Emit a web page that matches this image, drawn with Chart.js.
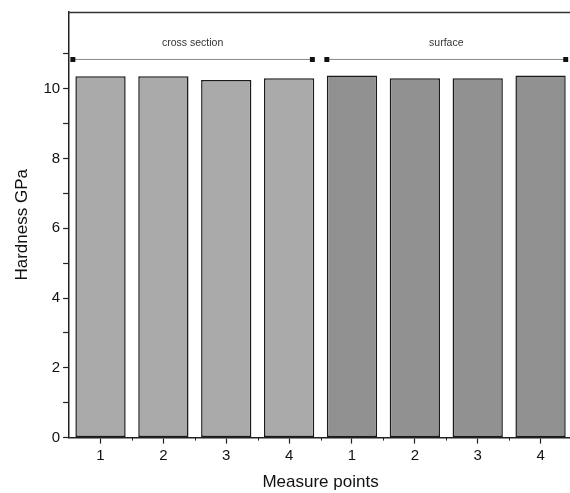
<!DOCTYPE html>
<html>
<head>
<meta charset="utf-8">
<script src="https://cdn.jsdelivr.net/npm/chart.js@4.4.1/dist/chart.umd.min.js"></script>
<style>
html,body{margin:0;padding:0;background:#fff;overflow:hidden;}
#wrap{position:relative;width:576px;height:493px;}
</style>
</head>
<body>
<div id="wrap"><canvas id="c" width="576" height="493"></canvas></div>
<script>
// ---- data ----
const categories = ['1', '2', '3', '4', '1', '2', '3', '4'];
const crossSection = [10.36, 10.36, 10.25, 10.30];
const surface = [10.38, 10.30, 10.30, 10.38];
const groupLabels = ['cross section', 'surface'];
const groupSpans = [[0.56, 4.37], [4.6, 8.4]];
const bracketLevel = 10.84;
const yTickValues = [0, 2, 4, 6, 8, 10];

const values = crossSection.concat(surface);
const colors = crossSection.map(() => '#aaaaaa').concat(surface.map(() => '#919191'));

const bracketSets = groupSpans.map((s, i) => ({
  type: 'line',
  label: groupLabels[i],
  xAxisID: 'xb',
  yAxisID: 'y',
  data: [{x: s[0], y: bracketLevel}, {x: s[1], y: bracketLevel}],
  borderColor: '#8a8a8a',
  borderWidth: 1,
  pointStyle: 'rect',
  pointRadius: 3.5,
  pointBackgroundColor: '#111',
  pointBorderColor: '#111',
  pointBorderWidth: 0
}));

const extras = {
  id: 'extras',
  afterDraw(chart) {
    const ctx = chart.ctx;
    const a = chart.chartArea;
    const xb = chart.scales.xb, y = chart.scales.y;
    ctx.save();
    // top frame
    ctx.strokeStyle = '#333';
    ctx.lineWidth = 1.5;
    ctx.beginPath();
    ctx.moveTo(a.left, a.top + 0.5);
    ctx.lineTo(a.right, a.top + 0.5);
    ctx.stroke();
    // minor x ticks at category boundaries
    ctx.strokeStyle = '#222';
    ctx.lineWidth = 1;
    for (let v = 1.5; v < 8.5; v += 1) {
      const px = Math.round(xb.getPixelForValue(v)) + 0.5;
      ctx.beginPath();
      ctx.moveTo(px, a.bottom);
      ctx.lineTo(px, a.bottom + 3);
      ctx.stroke();
    }
    // group labels
    ctx.fillStyle = '#333';
    ctx.font = '10.5px "Liberation Sans", Arial, sans-serif';
    ctx.textAlign = 'center';
    ctx.textBaseline = 'middle';
    groupSpans.forEach((s, i) => {
      const cx = (xb.getPixelForValue(s[0]) + xb.getPixelForValue(s[1])) / 2;
      ctx.fillText(groupLabels[i], cx, y.getPixelForValue(bracketLevel) - 16);
    });
    ctx.restore();
  }
};

new Chart(document.getElementById('c'), {
  type: 'bar',
  data: {
    labels: categories,
    datasets: [{
      type: 'bar',
      label: 'Hardness',
      xAxisID: 'x',
      yAxisID: 'y',
      data: values,
      backgroundColor: colors,
      borderColor: '#1a1a1a',
      borderWidth: 1.5,
      borderSkipped: false,
      grouped: false,
      barPercentage: 0.8,
      categoryPercentage: 1.0
    }].concat(bracketSets)
  },
  options: {
    responsive: false,
    animation: false,
    layout: {padding: {top: 12, right: 0, left: 12, bottom: 0}},
    plugins: {legend: {display: false}, tooltip: {enabled: false}},
    scales: {
      x: {
        type: 'category',
        offset: true,
        grid: {display: true, drawOnChartArea: false, offset: false, tickLength: 6, tickColor: '#222', tickWidth: 1.2},
        border: {display: true, color: '#222', width: 1.5},
        ticks: {color: '#111', font: {family: '"Liberation Sans", Arial, sans-serif', size: 15}, padding: 3, maxRotation: 0, autoSkip: false},
        title: {display: true, text: 'Measure points', color: '#111', font: {family: '"Liberation Sans", Arial, sans-serif', size: 17}, padding: {top: 5, bottom: 0}}
      },
      xb: {
        type: 'linear',
        display: false,
        offset: false,
        min: 0.5,
        max: 8.5
      },
      y: {
        type: 'linear',
        min: 0,
        max: 12.2,
        grid: {display: true, drawOnChartArea: false, tickLength: 6, tickColor: '#222', tickWidth: 1.2},
        border: {display: true, color: '#222', width: 1.5},
        afterBuildTicks(scale) {
          const t = [];
          for (let v = 0; v <= 11; v++) t.push({value: v});
          scale.ticks = t;
        },
        ticks: {
          color: '#111',
          font: {family: '"Liberation Sans", Arial, sans-serif', size: 15},
          padding: 3,
          callback: (v) => yTickValues.includes(v) ? String(v) : ''
        },
        title: {display: true, text: 'Hardness GPa', color: '#111', font: {family: '"Liberation Sans", Arial, sans-serif', size: 17}, padding: {top: 0, bottom: 8}}
      }
    }
  },
  plugins: [extras]
});
</script>
</body>
</html>
